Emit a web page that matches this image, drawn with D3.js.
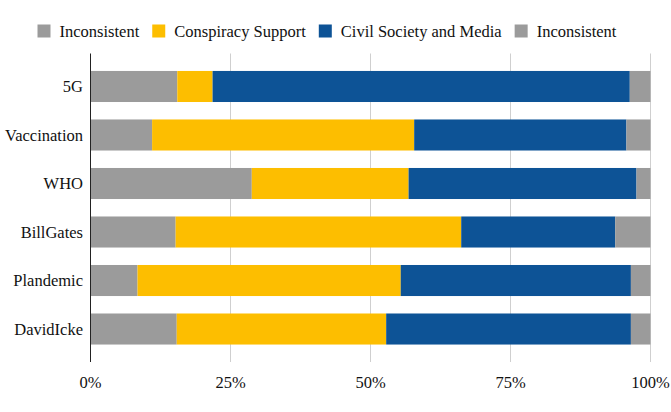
<!DOCTYPE html>
<html><head><meta charset="utf-8">
<script src="https://cdn.jsdelivr.net/npm/d3@7"></script>
<style>
html,body{margin:0;padding:0;background:#fff;}
svg text{font-family:"Liberation Serif","DejaVu Serif",serif;}
</style></head>
<body><svg id="c" width="671" height="412"></svg>
<script>
const categories = ["5G","Vaccination","WHO","BillGates","Plandemic","DavidIcke"];
const seriesNames = ["Inconsistent","Conspiracy Support","Civil Society and Media","Inconsistent"];
const inconsistentLeft = [15.5, 11.0, 28.8, 15.2, 8.4, 15.4];
const conspiracySupport = [6.3, 46.8, 28.0, 51.0, 47.0, 37.4];
const civilSocietyMedia = [74.5, 37.9, 40.7, 27.5, 41.1, 43.7];
const inconsistentRight = [3.7, 4.3, 2.5, 6.3, 3.5, 3.5];
const tickValues = [0, 25, 50, 75, 100];
const colors = ["#9B9B9B","#FDBE00","#0D5396","#9B9B9B"];

const seriesValues = [inconsistentLeft, conspiracySupport, civilSocietyMedia, inconsistentRight];
const rows = categories.map((c,i)=>{
  const o = {cat:c};
  seriesValues.forEach((s,k)=>{o["s"+k]=s[i];});
  return o;
});
const keys = seriesNames.map((_,k)=>"s"+k);
const stacked = d3.stack().keys(keys)(rows);

const FONT = "Liberation Serif";
const FS = 16.5;
const svg = d3.select("#c");
const x = d3.scaleLinear().domain([0,100]).range([90.5,650.5]);
const y = d3.scaleBand().domain(categories).range([53.5,362]).paddingInner(0.36).paddingOuter(0.36);

// gridlines
svg.append("g").selectAll("line").data(tickValues.slice(1)).join("line")
  .attr("x1",d=>x(d)).attr("x2",d=>x(d)).attr("y1",53.5).attr("y2",362)
  .attr("stroke","#cfcfcf").attr("stroke-width",1);

// bars
svg.append("g").selectAll("g").data(stacked).join("g")
  .attr("fill",(d,i)=>colors[i])
  .selectAll("rect").data(d=>d).join("rect")
  .attr("x",d=>x(d[0])).attr("width",d=>x(d[1])-x(d[0]))
  .attr("y",d=>y(d.data.cat)).attr("height",y.bandwidth());

// y axis line
svg.append("line").attr("x1",90.5).attr("x2",90.5).attr("y1",53.5).attr("y2",362)
  .attr("stroke","#222").attr("stroke-width",1);

// y labels
svg.append("g").selectAll("text").data(categories).join("text")
  .attr("font-family",FONT)
  .attr("x",83).attr("y",d=>y(d)+y.bandwidth()/2).attr("dy","0.35em")
  .attr("text-anchor","end").attr("font-size",FS).attr("fill","#111").text(d=>d);

// x tick labels
svg.append("g").selectAll("text").data(tickValues).join("text")
  .attr("font-family",FONT)
  .attr("x",d=>x(d)).attr("y",387.5).attr("text-anchor","middle")
  .attr("font-size",FS).attr("fill","#111").text(d=>d+"%");

// legend
const lg = svg.append("g");
let lx = 37.5;
seriesNames.forEach((n,i)=>{
  lg.append("rect").attr("x",lx).attr("y",24.5).attr("width",13).attr("height",13).attr("fill",colors[i]);
  const t = lg.append("text").attr("font-family",FONT).attr("x",lx+22).attr("y",36.5).attr("font-size",FS).attr("fill","#111").text(n);
  lx += 22 + t.node().getComputedTextLength() + 13;
});
</script></body></html>
